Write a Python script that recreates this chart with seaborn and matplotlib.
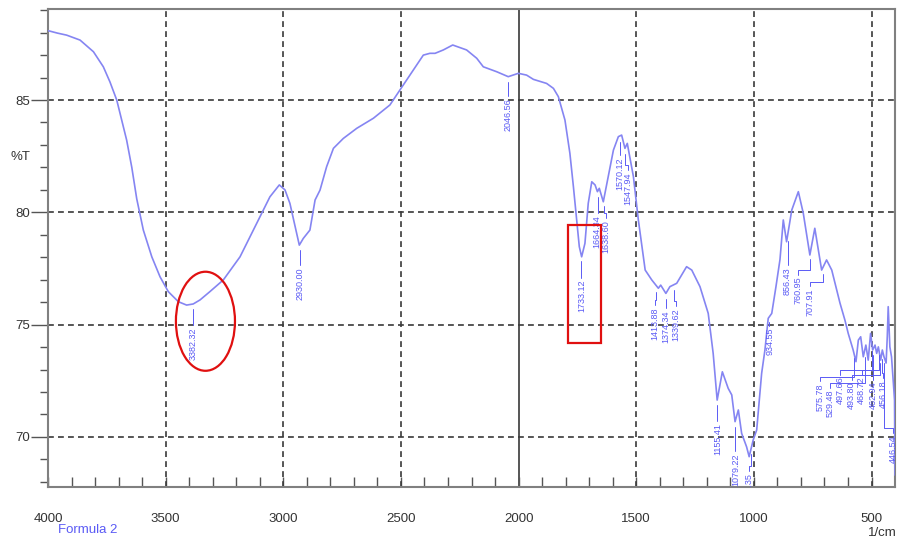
import numpy as np
import pandas as pd
import matplotlib
matplotlib.use("Agg")
import matplotlib.pyplot as plt
from matplotlib.patches import Ellipse, Rectangle
import seaborn as sns

# espectro IR
wavenumber = [4000, 3960, 3921, 3864, 3807, 3765, 3737, 3708, 3687, 3666, 3644, 3623,
              3595, 3559, 3524, 3489, 3446, 3411, 3383, 3354, 3312, 3255, 3184, 3113,
              3057, 3017, 2993, 2972, 2964, 2946, 2932, 2915, 2887, 2865, 2844, 2816,
              2787, 2745, 2688, 2617, 2547, 2504, 2447, 2405, 2377, 2355, 2320, 2280,
              2221, 2178, 2150, 2093, 2044, 2001, 1966, 1937, 1881, 1852, 1831, 1803,
              1782, 1767, 1753, 1742, 1732, 1718, 1704, 1689, 1675, 1665, 1657, 1640,
              1619, 1597, 1576, 1562, 1548, 1538, 1512, 1491, 1462, 1434, 1406, 1396,
              1374, 1357, 1343, 1328, 1286, 1264, 1229, 1194, 1173, 1156, 1134, 1109,
              1094, 1080, 1066, 1052, 1031, 1020, 1003, 988, 967, 953, 939, 924,
              906, 889, 875, 861, 839, 811, 790, 762, 741, 712, 691, 669,
              634, 613, 599, 578, 566, 556, 546, 535, 524, 514, 504, 495,
              485, 478, 471, 461, 454, 447, 438, 433, 429, 422, 415, 408,
              402, 400]
transmittance = [88.09, 87.98, 87.89, 87.67, 87.15, 86.48, 85.81, 85.00, 84.11, 83.22, 82.00, 80.60,
                 79.21, 78.02, 77.13, 76.47, 76.02, 75.87, 75.92, 76.10, 76.47, 76.99, 78.02, 79.51,
                 80.69, 81.22, 81.00, 80.40, 80.03, 79.21, 78.54, 78.84, 79.21, 80.55, 80.99, 82.03,
                 82.85, 83.29, 83.74, 84.19, 84.78, 85.45, 86.34, 87.00, 87.08, 87.08, 87.23, 87.45,
                 87.23, 86.86, 86.48, 86.26, 86.04, 86.19, 86.11, 85.92, 85.74, 85.52, 85.15, 84.11,
                 82.63, 81.14, 79.66, 78.47, 78.02, 78.62, 80.40, 81.36, 81.22, 80.92, 81.07, 80.47,
                 81.59, 82.77, 83.37, 83.44, 82.85, 83.07, 81.59, 79.66, 77.43, 76.99, 76.62, 76.76,
                 76.39, 76.69, 76.76, 76.84, 77.58, 77.43, 76.69, 75.50, 73.72, 71.64, 72.90, 72.16,
                 71.87, 70.68, 71.20, 70.16, 69.56, 69.12, 69.86, 70.31, 72.83, 73.87, 75.28, 75.50,
                 76.70, 77.90, 79.66, 78.69, 80.10, 80.92, 79.96, 78.10, 79.29, 77.43, 77.88, 77.43,
                 75.96, 75.20, 74.61, 73.87, 73.35, 74.31, 74.46, 73.57, 74.09, 73.42, 74.61, 73.87,
                 74.09, 73.72, 74.01, 73.42, 73.87, 73.57, 73.29, 74.46, 75.80, 74.01, 73.57, 72.53,
                 71.64, 68.30]

peak_labels = ["3382.32", "2930.00", "2046.56", "1733.12", "1664.34", "1638.60", "1570.12",
               "1547.94", "1413.88", "1374.34", "1339.62", "1155.41", "1079.22", "1011.35",
               "934.55", "856.43", "760.95", "707.91", "575.78", "529.48", "497.66", "493.80",
               "468.72", "462.94", "456.18", "446.54"]
peak_wn = [float(s) for s in peak_labels]

# posicion del texto de cada etiqueta (x del texto, y del borde superior)
label_x = [3382, 2930, 2046.56, 1733, 1668, 1628, 1570, 1534, 1420, 1374, 1330, 1153, 1075, 1022,
           932, 858, 811, 762, 719, 677, 634, 584, 542, 493, 450, 408]
label_top = [74.89, 77.56, 85.09, 76.99, 79.88, 79.66, 82.46, 81.79, 75.78, 75.65, 75.74, 70.62,
             69.28, 68.39, 74.85, 77.56, 77.13, 76.62, 72.39, 72.09, 72.68, 72.46, 72.68, 72.46,
             72.53, 70.08]

df = pd.DataFrame({"wn": wavenumber, "T": transmittance})

sns.set_theme(style="white")
plt.rcParams["font.family"] = ["Liberation Sans", "DejaVu Sans"]

fig = plt.figure(figsize=(8.98, 5.41), dpi=100)
ax = fig.add_axes([0.0535, 0.0998, 0.9432, 0.883])

line_col = "#8585f2"
lab_col = "#5a5af5"
grid_col = "#3a3a3a"

# rejilla
for gx in [3500, 3000, 2500, 1500, 1000, 500]:
    ax.axvline(gx, color=grid_col, lw=1.2, ls=(0, (3.5, 2.5)), zorder=1)
ax.axvline(2000, color="#555555", lw=1.4, zorder=1)
for gy in [85, 80, 75, 70]:
    ax.axhline(gy, color=grid_col, lw=1.2, ls=(0, (3.5, 2.5)), zorder=1)

sns.lineplot(data=df, x="wn", y="T", sort=False, estimator=None, color=line_col, lw=1.2, ax=ax, zorder=3)

# etiquetas de picos
wn_asc = np.array(wavenumber[::-1], dtype=float)
t_asc = np.array(transmittance[::-1], dtype=float)
for txt, w, xt, top in zip(peak_labels, peak_wn, label_x, label_top):
    yc = np.interp(w, wn_asc, t_asc) - 0.25
    if abs(xt - w) < 6:
        xs = [w, w]
        ys = [yc, top + 0.08]
    else:
        bend = top + 0.3
        xs = [w, w, xt, xt]
        ys = [yc, bend, bend, top + 0.08]
    ax.plot(xs, ys, color=lab_col, lw=0.7, zorder=4)
    ax.text(xt, top, txt, rotation=90, ha="center", va="top", fontsize=6.5,
            color=lab_col, zorder=4, clip_on=True)

# marcas rojas
ax.add_patch(Ellipse((3331, 75.15), 251, 4.41, fill=False, ec="#e01010", lw=1.6, zorder=5))
ax.add_patch(Rectangle((1650, 74.19), 139, 5.24, fill=False, ec="#e01010", lw=1.6, zorder=5))

ax.set_xlim(4000, 400)
ax.set_ylim(67.77, 89.04)
ax.set_xticks([4000, 3500, 3000, 2500, 2000, 1500, 1000, 500])
ax.set_xticks(np.arange(500, 4000, 100), minor=True)
ax.set_yticks([70, 75, 80, 85])
ax.set_yticks(np.arange(68, 90, 1), minor=True)
ax.tick_params(axis="x", which="both", direction="in", length=7, width=1, color="#555555",
               labelsize=9.5, labelcolor="#333333", pad=19, bottom=True)
ax.tick_params(axis="y", which="major", direction="out", length=12, width=1, color="#555555",
               labelsize=9.5, labelcolor="#333333", pad=1, left=True)
ax.tick_params(axis="y", which="minor", direction="out", length=6, width=1, color="#555555", left=True)
ax.set_xlabel("")
ax.set_ylabel("")
for sp in ax.spines.values():
    sp.set_color("#808080")
    sp.set_linewidth(1.5)

ax.text(-0.033, 0.69, "%T", transform=ax.transAxes, ha="center", va="center",
        fontsize=9.5, color="#333333")
fig.text(0.999, 0.0148, "1/cm", ha="right", va="center", fontsize=9.5, color="#333333")
fig.text(0.0646, 0.0203, "Formula 2", ha="left", va="center", fontsize=9.5, color="#5a5af5")

fig.savefig("out.png", dpi=100)
